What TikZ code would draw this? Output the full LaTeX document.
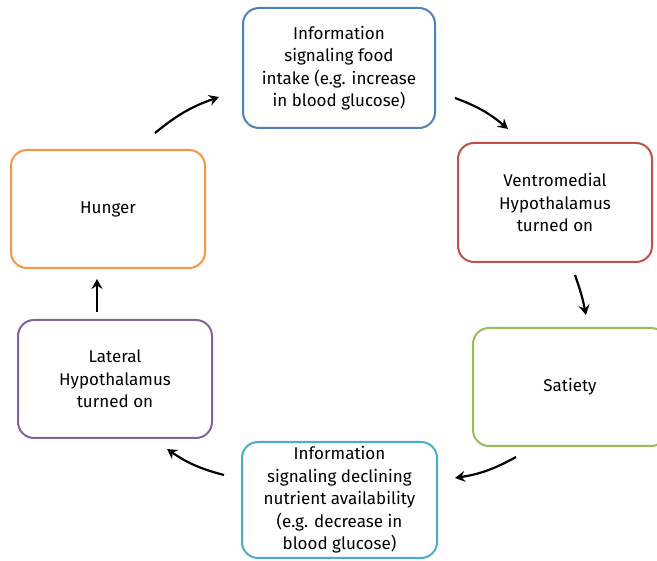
\documentclass[tikz,border=0pt]{standalone}
\usepackage{fontspec}
\setmainfont{Fira Sans}
\usetikzlibrary{arrows.meta}
\definecolor{cblue}{RGB}{79,129,189}
\definecolor{cred}{RGB}{192,80,77}
\definecolor{cgreen}{RGB}{155,187,89}
\definecolor{cpurple}{RGB}{128,100,162}
\definecolor{caqua}{RGB}{75,172,198}
\definecolor{corange}{RGB}{247,150,70}
\tikzset{
  cyclebox/.style={draw, line width=2pt, rounded corners=16pt, fill=white,
    minimum width=#1, align=center, inner sep=0pt,
    font=\fontsize{17}{22.5}\selectfont, text=black},
  flowarrow/.style={line width=2.2pt, -{Stealth[length=10pt,width=11pt,inset=3.5pt]}, bend left=10}
}
\begin{document}
\begin{tikzpicture}[x=1pt,y=-1pt]
\useasboundingbox (0,0) rectangle (657,561);
\node[cyclebox=192pt, draw=cblue, minimum height=120pt] (info1) at (339,68)
  {Information\\signaling food\\intake (e.g. increase\\in blood glucose)};
\node[cyclebox=194pt, draw=cred, minimum height=119pt] (vmh) at (555,202.5)
  {Ventromedial\\Hypothalamus\\turned on};
\node[cyclebox=194pt, draw=cgreen, minimum height=118pt] (sat) at (570,387)
  {Satiety};
\node[cyclebox=195pt, draw=caqua, minimum height=116pt] (info2) at (339.5,500)
  {Information\\signaling declining\\nutrient availability\\(e.g. decrease in\\blood glucose)};
\node[cyclebox=194pt, draw=cpurple, minimum height=118pt] (lh) at (115,379)
  {Lateral\\Hypothalamus\\turned on};
\node[cyclebox=194pt, draw=corange, minimum height=118pt] (hun) at (108,209)
  {Hunger};
\coordinate (a1s) at (155,133); \coordinate (a1e) at (219,97);
\coordinate (a2s) at (455,98);  \coordinate (a2e) at (508,129);
\coordinate (a3s) at (575,275); \coordinate (a3e) at (586,315);
\coordinate (a4s) at (516,457); \coordinate (a4e) at (455,478);
\coordinate (a5s) at (224,475); \coordinate (a5e) at (167,449);
\coordinate (a6s) at (97,312);  \coordinate (a6e) at (97,279);
\draw[flowarrow] (a1s) to (a1e);
\draw[flowarrow] (a2s) to (a2e);
\draw[flowarrow, bend left=4] (a3s) to (a3e);
\draw[flowarrow] (a4s) to (a4e);
\draw[flowarrow] (a5s) to (a5e);
\draw[flowarrow, bend left=0] (a6s) to (a6e);
\end{tikzpicture}
\end{document}
